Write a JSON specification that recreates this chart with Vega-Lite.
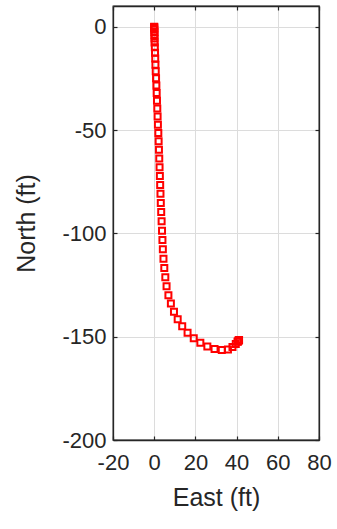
{
  "$schema": "https://vega.github.io/schema/vega-lite/v6.json",
  "autosize": {"type": "none"},
  "padding": {"left": 113, "top": 6, "right": 18, "bottom": 89},
  "width": 206,
  "height": 434,
  "config": {
    "font": "Liberation Sans",
    "view": {"stroke": "#262626", "strokeWidth": 1.3},
    "axis": {
      "domainColor": "#262626",
      "domainWidth": 1.3,
      "tickColor": "#262626",
      "tickWidth": 1.2,
      "tickSize": -4,
      "gridColor": "#dcdcdc",
      "gridWidth": 1,
      "labelColor": "#262626",
      "titleColor": "#262626",
      "labelFontSize": 22,
      "titleFontSize": 25,
      "titleFontWeight": "normal",
      "labelFont": "Liberation Sans",
      "titleFont": "Liberation Sans",
      "labelExpr": "'' + datum.value"
    }
  },
  "data": {
    "values": [
      {"east": 0.0, "north": 0.0},
      {"east": 0.0, "north": -0.2},
      {"east": 0.0, "north": -0.7},
      {"east": 0.05, "north": -1.5},
      {"east": 0.1, "north": -2.6},
      {"east": 0.12, "north": -4.0},
      {"east": 0.15, "north": -5.7},
      {"east": 0.2, "north": -7.7},
      {"east": 0.3, "north": -10.0},
      {"east": 0.4, "north": -12.6},
      {"east": 0.5, "north": -15.4},
      {"east": 0.6, "north": -18.4},
      {"east": 0.75, "north": -21.6},
      {"east": 0.9, "north": -25.0},
      {"east": 1.05, "north": -28.5},
      {"east": 1.2, "north": -32.1},
      {"east": 1.35, "north": -35.8},
      {"east": 1.5, "north": -39.6},
      {"east": 1.65, "north": -43.5},
      {"east": 1.8, "north": -47.4},
      {"east": 2.0, "north": -51.4},
      {"east": 2.15, "north": -55.5},
      {"east": 2.3, "north": -59.6},
      {"east": 2.45, "north": -63.8},
      {"east": 2.6, "north": -68.0},
      {"east": 2.75, "north": -72.3},
      {"east": 2.9, "north": -76.6},
      {"east": 3.05, "north": -80.9},
      {"east": 3.2, "north": -85.3},
      {"east": 3.4, "north": -89.7},
      {"east": 3.6, "north": -94.2},
      {"east": 3.8, "north": -98.7},
      {"east": 4.0, "north": -103.2},
      {"east": 4.2, "north": -107.7},
      {"east": 4.5, "north": -112.3},
      {"east": 4.9, "north": -116.8},
      {"east": 5.4, "north": -121.2},
      {"east": 6.0, "north": -125.6},
      {"east": 6.9, "north": -129.9},
      {"east": 8.1, "north": -134.0},
      {"east": 9.6, "north": -137.9},
      {"east": 11.4, "north": -141.6},
      {"east": 13.6, "north": -145.0},
      {"east": 16.2, "north": -148.1},
      {"east": 19.2, "north": -150.8},
      {"east": 22.4, "north": -153.0},
      {"east": 25.8, "north": -154.8},
      {"east": 29.3, "north": -156.0},
      {"east": 32.8, "north": -156.5},
      {"east": 35.8, "north": -156.2},
      {"east": 38.0, "north": -155.0},
      {"east": 39.6, "north": -153.6},
      {"east": 40.5, "north": -152.4},
      {"east": 41.0, "north": -151.8},
      {"east": 41.2, "north": -151.6},
      {"east": 41.0, "north": -151.9},
      {"east": 40.6, "north": -152.3}
    ]
  },
  "layer": [
    {
      "mark": {"type": "point", "shape": "square", "filled": false, "color": "#ff0000", "size": 36, "strokeWidth": 2, "opacity": 1},
      "encoding": {
        "x": {"field": "east", "type": "quantitative", "title": "East (ft)",
              "scale": {"domain": [-20, 80], "nice": false, "zero": false},
              "axis": {"values": [-20, 0, 20, 40, 60, 80], "labelPadding": 16, "titlePadding": 12, "labelFlush": false}},
        "y": {"field": "north", "type": "quantitative", "title": "North (ft)",
              "scale": {"domain": [-200, 10], "nice": false, "zero": false},
              "axis": {"values": [-200, -150, -100, -50, 0], "labelPadding": 11, "titlePadding": 22, "labelFlush": false}}
      }
    },
    {
      "mark": {"type": "point", "opacity": 0},
      "encoding": {
        "x": {"field": "east", "type": "quantitative",
              "axis": {"orient": "top", "values": [-20, 0, 20, 40, 60, 80], "labels": false, "title": null, "grid": false}},
        "y": {"field": "north", "type": "quantitative",
              "axis": {"orient": "right", "values": [-200, -150, -100, -50, 0], "labels": false, "title": null, "grid": false}}
      }
    }
  ],
  "resolve": {"axis": {"x": "independent", "y": "independent"}}
}
